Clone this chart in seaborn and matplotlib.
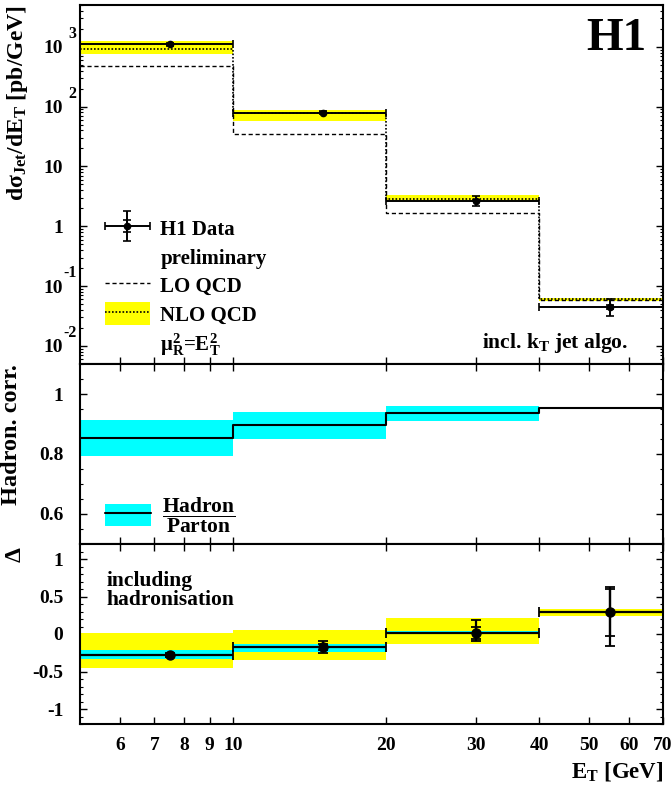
import numpy as np
import pandas as pd
import matplotlib
matplotlib.use("Agg")
import matplotlib.pyplot as plt
import seaborn as sns
from matplotlib.lines import Line2D
from matplotlib.patches import Patch
from matplotlib.legend_handler import HandlerTuple, HandlerErrorbar
from matplotlib.ticker import FixedLocator, NullLocator, MultipleLocator, LogLocator, NullFormatter
from matplotlib.transforms import blended_transform_factory

# ---- binning -------------------------------------------------------------
bin_edges = [5, 10, 20, 40, 70]
bin_centres = [7.5, 15, 30, 55]

# ---- inclusive jet cross section [pb/GeV] ---------------------------------
xsec_data = [1100, 79, 2.7, 0.045]
xsec_stat = [15, 1.5, 0.08, 0.004]
xsec_tot_lo = [60, 5, 0.5, 0.013]
xsec_tot_hi = [60, 5, 0.5, 0.016]
xsec_lo = [480, 35, 1.7, 0.058]
xsec_nlo = [930, 77, 2.9, 0.060]
xsec_nlo_down = [765, 58, 2.6, 0.056]
xsec_nlo_up = [1260, 89, 3.4, 0.064]

# ---- hadronisation correction ---------------------------------------------
hadcorr = [0.853, 0.897, 0.937, 0.953]
hadcorr_down = [0.793, 0.850, 0.910, 0.949]
hadcorr_up = [0.913, 0.940, 0.960, 0.957]

# ---- relative difference (data - NLO*had) / (NLO*had) -----------------------
delta_data = [-0.28, -0.17, 0.02, 0.29]
delta_stat = [0.02, 0.04, 0.08, 0.31]
delta_tot_lo = [0.03, 0.08, 0.11, 0.45]
delta_tot_hi = [0.03, 0.08, 0.17, 0.34]
delta_had_down = [-0.33, -0.24, 0.00, 0.275]
delta_had_up = [-0.21, -0.13, 0.045, 0.305]
delta_scale_down = [-0.45, -0.35, -0.13, 0.24]
delta_scale_up = [0.01, 0.05, 0.21, 0.33]

x_ticks = [6, 7, 8, 9, 10, 20, 30, 40, 50, 60, 70]
xsec_ticks = [1e-2, 1e-1, 1, 10, 1e2, 1e3]
xsec_tick_base = ["10", "10", "1", "10", "10", "10"]
xsec_tick_exp = ["-2", "-1", "", "", "2", "3"]

YELLOW = "#ffff00"
CYAN = "#00ffff"

sns.set_theme(style="ticks")
plt.rcParams.update({
    "font.family": ["Liberation Serif", "DejaVu Serif"],
    "font.weight": "bold",
    "mathtext.fontset": "custom",
    "mathtext.rm": "Liberation Serif:bold",
    "mathtext.it": "Liberation Serif:bold",
    "mathtext.bf": "Liberation Serif:bold",
    "mathtext.default": "rm",
    "axes.linewidth": 1.5,
    "axes.edgecolor": "black",
    "xtick.direction": "in",
    "ytick.direction": "in",
    "xtick.color": "black",
    "ytick.color": "black",
    "axes.labelcolor": "black",
    "text.color": "black",
})

fig = plt.figure(figsize=(6.71, 7.89), dpi=100)
W, H = 671.0, 789.0
L, R = 80 / W, 663 / W


def panel(top_px, bot_px):
    return fig.add_axes([L, 1 - bot_px / H, R - L, (bot_px - top_px) / H])


ax1 = panel(5, 364)
ax2 = panel(364, 544)
ax3 = panel(544, 724)


def ext(v):
    return list(v) + [v[-1]]


edges = np.array(bin_edges, dtype=float)
centres = np.array(bin_centres, dtype=float)
xerr = [centres - edges[:-1], edges[1:] - centres]

# ---------------- top panel: cross section ----------------------------------
ax1.set_xscale("log")
ax1.set_yscale("log")
ax1.fill_between(edges, ext(xsec_nlo_down), ext(xsec_nlo_up), step="post",
                 color=YELLOW, lw=0, zorder=1)
sns.lineplot(x=edges, y=ext(xsec_nlo), drawstyle="steps-post", color="black",
             linestyle=(0, (1, 1.1)), lw=1.2, ax=ax1, sort=False, zorder=2)
sns.lineplot(x=edges, y=ext(xsec_lo), drawstyle="steps-post", color="black",
             linestyle=(0, (3, 2)), lw=1.0, ax=ax1, sort=False, zorder=2)
eb_tot = ax1.errorbar(centres, xsec_data, xerr=xerr, yerr=[xsec_tot_lo, xsec_tot_hi],
                      fmt="o", ms=4.5, color="black", elinewidth=1.4, capsize=3,
                      capthick=1.2, zorder=4)
eb_stat = ax1.errorbar(centres, xsec_data, yerr=xsec_stat, fmt="none", color="black",
                       elinewidth=1.4, capsize=3, capthick=1.2, zorder=4)
ax1.set_xlim(5, 70)
ax1.set_ylim(5e-3, 5e3)
ax1.yaxis.set_major_locator(FixedLocator(xsec_ticks))
ax1.set_yticklabels(xsec_tick_base)
ax1.yaxis.set_minor_locator(LogLocator(base=10, subs=np.arange(2, 10)))
ax1.yaxis.set_minor_formatter(NullFormatter())
btf = blended_transform_factory(ax1.transAxes, ax1.transData)
for val, ex in zip(xsec_ticks, xsec_tick_exp):
    if ex:
        ax1.annotate(ex, xy=(0, val), xycoords=btf, xytext=(-2.5, 3.5),
                     textcoords="offset points", ha="right", va="bottom",
                     fontsize=11.5, fontweight="bold")
ax1.set_ylabel(r"d$\sigma_{\mathrm{Jet}}$/dE$_{\mathrm{T}}$ [pb/GeV]", fontsize=17,
               fontweight="bold", loc="top")
ax1.yaxis.set_label_coords(-0.085, 1.0)
ax1.text(0.971, 0.965, "H1", transform=ax1.transAxes, ha="right", va="top",
         fontsize=34, fontweight="bold")
ax1.text(0.94, 0.045, r"incl. k$_{\mathrm{T}}$ jet algo.", transform=ax1.transAxes,
         ha="right", va="baseline", fontsize=15.5, fontweight="bold")

h_blank = Line2D([], [], linestyle="none")
h_lo = Line2D([], [], color="black", linestyle=(0, (3, 2)), lw=1.0)
h_nlo = (Patch(facecolor=YELLOW, edgecolor="none"),
         Line2D([], [], color="black", linestyle=(0, (1, 1.1)), lw=1.2))
ax1.legend([(eb_tot, eb_stat), h_blank, h_lo, h_nlo, h_blank],
           ["H1 Data", "preliminary", "LO QCD", "NLO QCD", r"$\mu_R^2$=E$_T^2$"],
           handler_map={tuple: HandlerTuple(ndivide=1, pad=0),
                        eb_tot: HandlerErrorbar(xerr_size=1.07, yerr_size=0.72),
                        eb_stat: HandlerErrorbar(xerr_size=1.07, yerr_size=0.3)},
           loc="upper left", bbox_to_anchor=(0.043, 0.41), frameon=False,
           fontsize=15, handlelength=2.15, handleheight=1.3, handletextpad=0.5,
           labelspacing=0.25, borderpad=0, borderaxespad=0)

# ---------------- middle panel: hadronisation correction ---------------------
ax2.set_xscale("log")
ax2.fill_between(edges, ext(hadcorr_down), ext(hadcorr_up), step="post",
                 color=CYAN, lw=0, zorder=1)
sns.lineplot(x=edges, y=ext(hadcorr), drawstyle="steps-post", color="black",
             lw=1.5, ax=ax2, sort=False, zorder=2)
ax2.set_xlim(5, 70)
ax2.set_ylim(0.5, 1.1)
ax2.yaxis.set_major_locator(FixedLocator([0.6, 0.8, 1.0]))
ax2.set_yticklabels(["0.6", "0.8", "1"])
ax2.yaxis.set_minor_locator(MultipleLocator(0.05))
ax2.set_ylabel("Hadron. corr.", fontsize=17.5, fontweight="bold", loc="top")
ax2.yaxis.set_label_coords(-0.1, 1.0)
h_had = (Patch(facecolor=CYAN, edgecolor="none"),
         Line2D([], [], color="black", lw=1.5))
ax2.legend([h_had], [r"$\dfrac{\mathrm{Hadron}}{\mathrm{Parton}}$"],
           handler_map={tuple: HandlerTuple(ndivide=1, pad=0)},
           loc="center left", bbox_to_anchor=(0.043, 0.161), frameon=False,
           fontsize=15.5, handlelength=2.15, handleheight=1.15, handletextpad=0.5,
           borderpad=0, borderaxespad=0)

# ---------------- bottom panel: relative difference --------------------------
ax3.set_xscale("log")
ax3.fill_between(edges, ext(delta_scale_down), ext(delta_scale_up), step="post",
                 color=YELLOW, lw=0, zorder=1)
ax3.fill_between(edges, ext(delta_had_down), ext(delta_had_up), step="post",
                 color=CYAN, lw=0, zorder=2)
ax3.errorbar(centres, delta_data, xerr=xerr, yerr=[delta_tot_lo, delta_tot_hi],
             fmt="o", ms=6.5, color="black", elinewidth=1.6, capsize=3.5,
             capthick=1.3, zorder=4)
ax3.errorbar(centres, delta_data, yerr=delta_stat, fmt="none", color="black",
             elinewidth=1.6, capsize=3.5, capthick=1.3, zorder=4)
ax3.set_xlim(5, 70)
ax3.set_ylim(-1.2, 1.2)
ax3.yaxis.set_major_locator(FixedLocator([-1, -0.5, 0, 0.5, 1]))
ax3.set_yticklabels(["-1", "-0.5", "0", "0.5", "1"])
ax3.yaxis.set_minor_locator(MultipleLocator(0.1))
ax3.set_ylabel("Δ", fontsize=17, fontweight="bold", loc="top")
ax3.yaxis.set_label_coords(-0.094, 0.985)
ax3.text(0.045, 0.85, "including\nhadronisation", transform=ax3.transAxes,
         ha="left", va="top", fontsize=15.5, fontweight="bold", linespacing=0.95)
ax3.set_xlabel(r"E$_{\mathrm{T}}$ [GeV]", fontsize=16.5, fontweight="bold",
               loc="right")

# ---------------- shared axis styling ----------------------------------------
for ax in (ax1, ax2, ax3):
    ax.xaxis.set_major_locator(FixedLocator(x_ticks))
    ax.xaxis.set_minor_locator(NullLocator())
    ax.tick_params(axis="both", which="major", length=5, width=1.0,
                   labelsize=14, right=True, top=(ax is not ax1))
    ax.tick_params(axis="y", which="major", pad=12)
    ax.tick_params(axis="y", which="minor", length=2.5, width=0.8, right=True)
    ax.tick_params(axis="x", which="major", pad=9)
    for lbl in ax.get_yticklabels():
        lbl.set_fontweight("bold")
    for s in ax.spines.values():
        s.set_linewidth(1.5)
        s.set_zorder(5)

ax1.set_xticklabels([])
ax2.set_xticklabels([])
ax3.set_xticklabels([str(t) for t in x_ticks], fontweight="bold")
ax1.set_xlabel("")
ax2.set_xlabel("")
ax3.xaxis.set_label_coords(1.0, -0.2)

fig.savefig("out.png", dpi=100)
